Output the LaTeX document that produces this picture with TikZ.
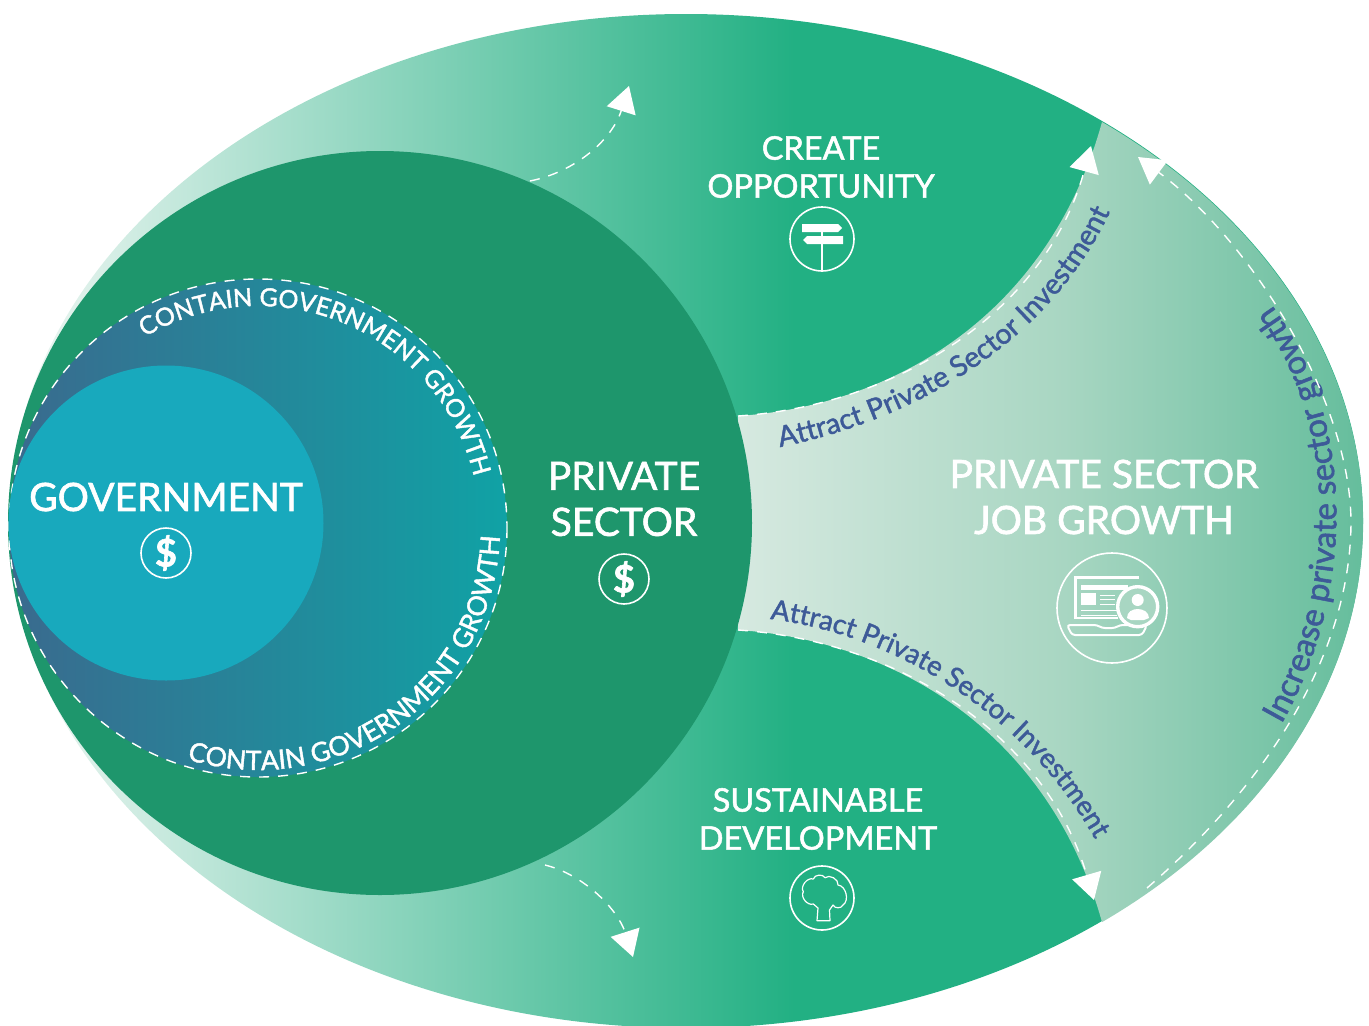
\documentclass[tikz,border=0pt]{standalone}
\usepackage{fontspec}
\setmainfont{Lato}[FakeBold=1.6]
\usepackage{xcolor}
\usetikzlibrary{arrows.meta, decorations.text}

\definecolor{sectorgreen}{HTML}{22B083}
\definecolor{privategreen}{HTML}{1E966C}
\definecolor{govblue}{HTML}{18A9BD}
\definecolor{investblue}{HTML}{3D5A98}
\definecolor{paleedge}{HTML}{F0F7F4}
\definecolor{jobleft}{HTML}{D6E9E0}
\definecolor{jobmid}{HTML}{A8D6C2}
\definecolor{jobright}{HTML}{5FBB99}
\definecolor{ringleft}{HTML}{3A6A8E}
\definecolor{ringright}{HTML}{10A2A5}

\pgfdeclarehorizontalshading{sectorfade}{100bp}{color(0bp)=(paleedge); color(25bp)=(paleedge); color(54bp)=(sectorgreen); color(100bp)=(sectorgreen)}

\newcommand{\fs}[1]{\fontsize{#1}{#1}\selectfont}

\begin{document}
\begin{tikzpicture}[
    x=1pt, y=-1pt,
    title/.style={text=white, align=center, inner sep=0pt, font=\fs{39}},
    subtitle/.style={text=white, align=center, inner sep=0pt, font=\fs{32.5}},
    badge/.style={circle, draw=white, line width=1.6pt, text=white, inner sep=0pt},
    icon/.style={draw=white, line width=1.6pt},
    dashline/.style={draw=white, line width=1.4pt, dash pattern=on 10pt off 9pt},
    flow/.style={dashline, -{Triangle[length=26pt, width=30pt, fill=white, sep=0pt]}}
]
    \useasboundingbox (0,0) rectangle (1369,1026);

    % Outer ellipse and job growth region
    \shade[shading=sectorfade]
        (686,521) ellipse [x radius=677, y radius=507];
    \shade[left color=jobleft, right color=jobright, middle color=jobmid]
        (738,416) .. controls (900,405) and (1050,310) .. (1102,122)
        arc [start angle=-52.1, end angle=52.1, x radius=677, y radius=507]
        .. controls (1050,736) and (900,641) .. (738,630) -- cycle;

    % Nested circles
    \fill[privategreen] (380,523) circle [radius=372];
    \shade[left color=ringleft, right color=ringright] (258,528) circle [radius=249];
    \draw[dashline] (258,528) circle [radius=249];
    \fill[govblue] (166,523) circle [radius=157.5];

    % Ring texts
    \path[decorate, decoration={text along path, text align=center,
        text={|\fs{25}\color{white}|CONTAIN GOVERNMENT GROWTH}}]
        (258,528) ++(-120:222) arc [start angle=-120, end angle=-14, radius=222];
    \path[decorate, decoration={text along path, text align=center,
        text={|\fs{26.7}\color{white}|CONTAIN GOVERNMENT GROWTH}}]
        (258,528) ++(106:242) arc [start angle=106, end angle=3, radius=242];

    % Labels
    \node[title] (government) at (166,497) {GOVERNMENT};
    \node[badge, minimum size=50pt, font=\fs{38}\bfseries] (govdollar) at (166,553) {\$};
    \node[title] (private) at (624,499) {PRIVATE\\[7pt]SECTOR};
    \node[badge, minimum size=50pt, font=\fs{38}\bfseries] (privdollar) at (624,579) {\$};
    \node[subtitle] (create) at (821,167) {CREATE\\[5.5pt]OPPORTUNITY};
    \node[subtitle] (sustain) at (818,819) {SUSTAINABLE\\[5.5pt]DEVELOPMENT};
    \node[title] (jobs) at (1104,497) {PRIVATE SECTOR\\[7pt]JOB GROWTH};

    % Investment texts
    \path[decorate, decoration={text along path, text align=center,
        text={|\fs{28.5}\color{investblue}|Attract Private Sector Investment}}]
        (780,447) .. controls (890,425) and (1040,360) .. (1110,212);
    \path[decorate, decoration={text along path,
        text={|\fs{27.6}\color{investblue}|Attract Private Sector Investment}}]
        (770,619) .. controls (900,635) and (1035,720) .. (1104,856);
    \path[decorate, decoration={text along path, text align=center,
        text={|\fs{33}\color{investblue}|Increase private sector growth}}]
        (1278,730) .. controls (1355,600) and (1360,420) .. (1268,300);

    % Dashed arrows
    \draw[flow] (530,181) .. controls (575,172) and (612,140) .. (629,86);
    \draw[flow] (545,865) .. controls (585,875) and (618,910) .. (633,957);
    \draw[flow] (738,416) .. controls (900,405) and (1046,310) .. (1091,146);
    \draw[flow] (738,630) .. controls (900,641) and (1046,736) .. (1094,900);
    \draw[flow] (1147,888) .. controls (1260,790) and (1350,660) .. (1351,523)
        .. controls (1351,400) and (1250,240) .. (1138,157);

    % Signpost icon
    \node[badge, minimum size=64pt] (signpost) at (822,239) {};
    \fill[white] (802,224) -- (838,224) -- (842,228) -- (838,232) -- (802,232) -- cycle;
    \fill[white] (843,236) -- (807,236) -- (803,240) -- (807,244) -- (843,244) -- cycle;
    \draw[icon] (822,232) -- (signpost.south);

    % Tree icon
    \node[badge, minimum size=64pt] (tree) at (822,898) {};
    \draw[icon, line width=1.2pt, line join=round] (817,920.7) -- (818,908) -- (813.3,904)
        to[bend left=70] (803.3,891.7) to[bend left=70] (813.3,879)
        to[bend left=70] (825,877.7) to[bend left=70] (838,885)
        to[bend left=70] (843,905) to[bend left=70] (833,905)
        -- (829.5,910) -- (830,920.7) -- cycle;

    % Laptop icon
    \node[badge, minimum size=110pt] (laptop) at (1112,608) {};
    \draw[icon, line width=2.6pt] (1139,577.3) -- (1075.5,577.3) -- (1075.5,618) -- (1118,618);
    \fill[white] (1081,585) rectangle (1128,589.5);
    \fill[white] (1081,593) rectangle (1096,605);
    \foreach \ypos in {595,599.3,604}
        \draw[icon, line width=1pt] (1100,\ypos) -- (1115,\ypos);
    \foreach \ypos in {610,615}
        \draw[icon, line width=1pt] (1081,\ypos) -- (1117,\ypos);
    \draw[icon, line width=2pt, rounded corners=3pt] (1067,625) -- (1097,625) -- (1102,628) -- (1115,628) -- (1120,625) -- (1147,625) -- (1142,635) -- (1072,635) -- cycle;
    \node[circle, draw=white, line width=3.4pt, fill=jobmid, minimum size=40pt, inner sep=0pt] (avatar) at (1137.7,606.7) {};
    \fill[white] (1137.7,600) circle [radius=6];
    \fill[white] (1127,618) .. controls (1127,612) and (1132,609) .. (1137.7,609) .. controls (1143,609) and (1149,612) .. (1149,618) -- (1144,620) -- (1131,620) -- cycle;
\end{tikzpicture}
\end{document}
